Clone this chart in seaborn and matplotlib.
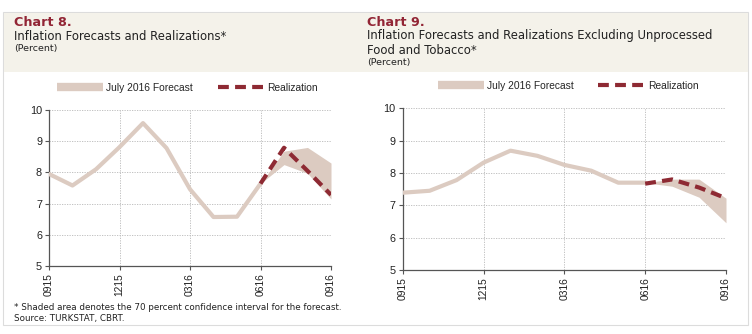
import matplotlib
matplotlib.use("Agg")
import matplotlib.pyplot as plt
import seaborn as sns
import pandas as pd
from matplotlib.lines import Line2D
from matplotlib.patches import Rectangle

# ---------------- data ----------------
months = ["0915", "1015", "1115", "1215", "0116", "0216", "0316",
          "0416", "0516", "0616", "0716", "0816", "0916"]
tick_labels = ["0915", "1215", "0316", "0616", "0916"]

# Chart 8: headline CPI
c8_forecast = [7.95, 7.58, 8.10, 8.81, 9.58, 8.78, 7.46, 6.57, 6.58, 7.64]
c8_band_low = [7.64, 8.25, 7.97, 7.15]
c8_band_high = [7.64, 8.68, 8.80, 8.30]
c8_real = [7.64, 8.79, 8.05, 7.28]

# Chart 9: excluding unprocessed food and tobacco
c9_forecast = [7.39, 7.45, 7.78, 8.32, 8.69, 8.53, 8.25, 8.07, 7.70, 7.70]
c9_band_low = [7.70, 7.59, 7.25, 6.46]
c9_band_high = [7.70, 7.81, 7.81, 7.22]
c9_real = [7.67, 7.80, 7.55, 7.22]

# ---------------- style ----------------
sns.set_theme(style="white")
plt.rcParams["font.family"] = ["Liberation Sans", "DejaVu Sans"]

FC = "#dccbc1"
RC = "#8e2a33"
TITLE_C = "#922535"
HEAD_BG = "#f4f2ea"
GRID_C = "#b8b8b8"

W, H = 752, 334
fig = plt.figure(figsize=(W / 100, H / 100), dpi=100)


def fx(px):
    return px / W


def fy(py):
    return 1 - py / H


# outer frame and header band
fig.patches.append(Rectangle((fx(3), fy(325)), fx(745), (325 - 12) / H,
                             transform=fig.transFigure, facecolor="white",
                             edgecolor="#dcdcdc", lw=0.8, zorder=-3))
fig.patches.append(Rectangle((fx(3.5), fy(72)), fx(744), (72 - 12.5) / H,
                             transform=fig.transFigure, facecolor=HEAD_BG,
                             edgecolor="none", zorder=-2))

title_font = ["DejaVu Sans"]
TXT = "#222222"

# headers
fig.text(fx(14), fy(22), "Chart 8.", color=TITLE_C, fontsize=9.2, fontweight="bold",
         va="center", ha="left", family=title_font)
fig.text(fx(14), fy(36), "Inflation Forecasts and Realizations*", color=TXT,
         fontsize=8.4, va="center", ha="left", family=title_font)
fig.text(fx(14), fy(49), "(Percent)", color=TXT, fontsize=6.8,
         va="center", ha="left", family=title_font)

fig.text(fx(367), fy(22), "Chart 9.", color=TITLE_C, fontsize=9.2, fontweight="bold",
         va="center", ha="left", family=title_font)
fig.text(fx(367), fy(36), "Inflation Forecasts and Realizations Excluding Unprocessed",
         color=TXT, fontsize=8.4, va="center", ha="left", family=title_font)
fig.text(fx(367), fy(50), "Food and Tobacco*", color=TXT, fontsize=8.4,
         va="center", ha="left", family=title_font)
fig.text(fx(367), fy(63), "(Percent)", color=TXT, fontsize=6.8,
         va="center", ha="left", family=title_font)

fig.text(fx(14), fy(307), "* Shaded area denotes the 70 percent confidence interval for the forecast.",
         color=TXT, fontsize=6.3, va="center", ha="left", family=title_font)
fig.text(fx(14), fy(318), "Source: TURKSTAT, CBRT.", color=TXT, fontsize=6.3,
         va="center", ha="left", family=title_font)

ax1 = fig.add_axes([fx(49), fy(266), fx(331 - 49), (266 - 110) / H])
ax2 = fig.add_axes([fx(402.7), fy(270), fx(726 - 402.7), (270 - 108.3) / H])

DASH = (0, (2.6, 1.5))


def draw(ax, fc, lo, hi, real, legend_x, legend_y):
    n_fc = len(fc)
    df_fc = pd.DataFrame({"x": list(range(n_fc)), "y": fc})
    xb = list(range(n_fc - 1, n_fc - 1 + len(lo)))
    ax.fill_between(xb, lo, hi, color=FC, lw=0, zorder=2)
    sns.lineplot(data=df_fc, x="x", y="y", ax=ax, color=FC, lw=3.0, zorder=3)
    df_r = pd.DataFrame({"x": xb, "y": real})
    sns.lineplot(data=df_r, x="x", y="y", ax=ax, color=RC, lw=3.0, zorder=4,
                 linestyle=DASH, dash_capstyle="butt")
    ax.set_xlim(0, len(months) - 1)
    ax.set_ylim(5, 10)
    ax.set_yticks([5, 6, 7, 8, 9, 10])
    tick_pos = [months.index(t) for t in tick_labels]
    ax.set_xticks(tick_pos)
    ax.set_xticklabels(tick_labels, rotation=90, fontsize=7.4, color=TXT)
    ax.tick_params(axis="y", labelsize=7.8, labelcolor=TXT, length=3,
                   width=0.8, color="#555555", direction="out", pad=2, left=True)
    ax.tick_params(axis="x", length=3, width=0.8, color="#555555", direction="out",
                   pad=2, bottom=True)
    ax.set_xlabel("")
    ax.set_ylabel("")
    ax.grid(True, color=GRID_C, linestyle=(0, (1.5, 1.5)), lw=0.6)
    ax.set_axisbelow(True)
    for s in ["top", "right"]:
        ax.spines[s].set_visible(False)
    for s in ["left", "bottom"]:
        ax.spines[s].set_color("#555555")
        ax.spines[s].set_linewidth(0.9)
    ax.set_facecolor("white")
    handles = [Line2D([0], [0], color=FC, lw=6, solid_capstyle="butt"),
               Line2D([0], [0], color=RC, lw=3, linestyle=DASH, dash_capstyle="butt")]
    ax.legend(handles, ["July 2016 Forecast", "Realization"], ncol=2, frameon=False,
              loc="center", bbox_to_anchor=(legend_x, legend_y), fontsize=7.4,
              handlelength=4.5, handletextpad=0.3, columnspacing=2.4)


draw(ax1, c8_forecast, c8_band_low, c8_band_high, c8_real, 0.491, 1 + (110 - 88) / 156)
draw(ax2, c9_forecast, c9_band_low, c9_band_high, c9_real, 0.511, 1 + (108.3 - 86) / 161.7)

fig.savefig("out.png", dpi=100, facecolor="white")
